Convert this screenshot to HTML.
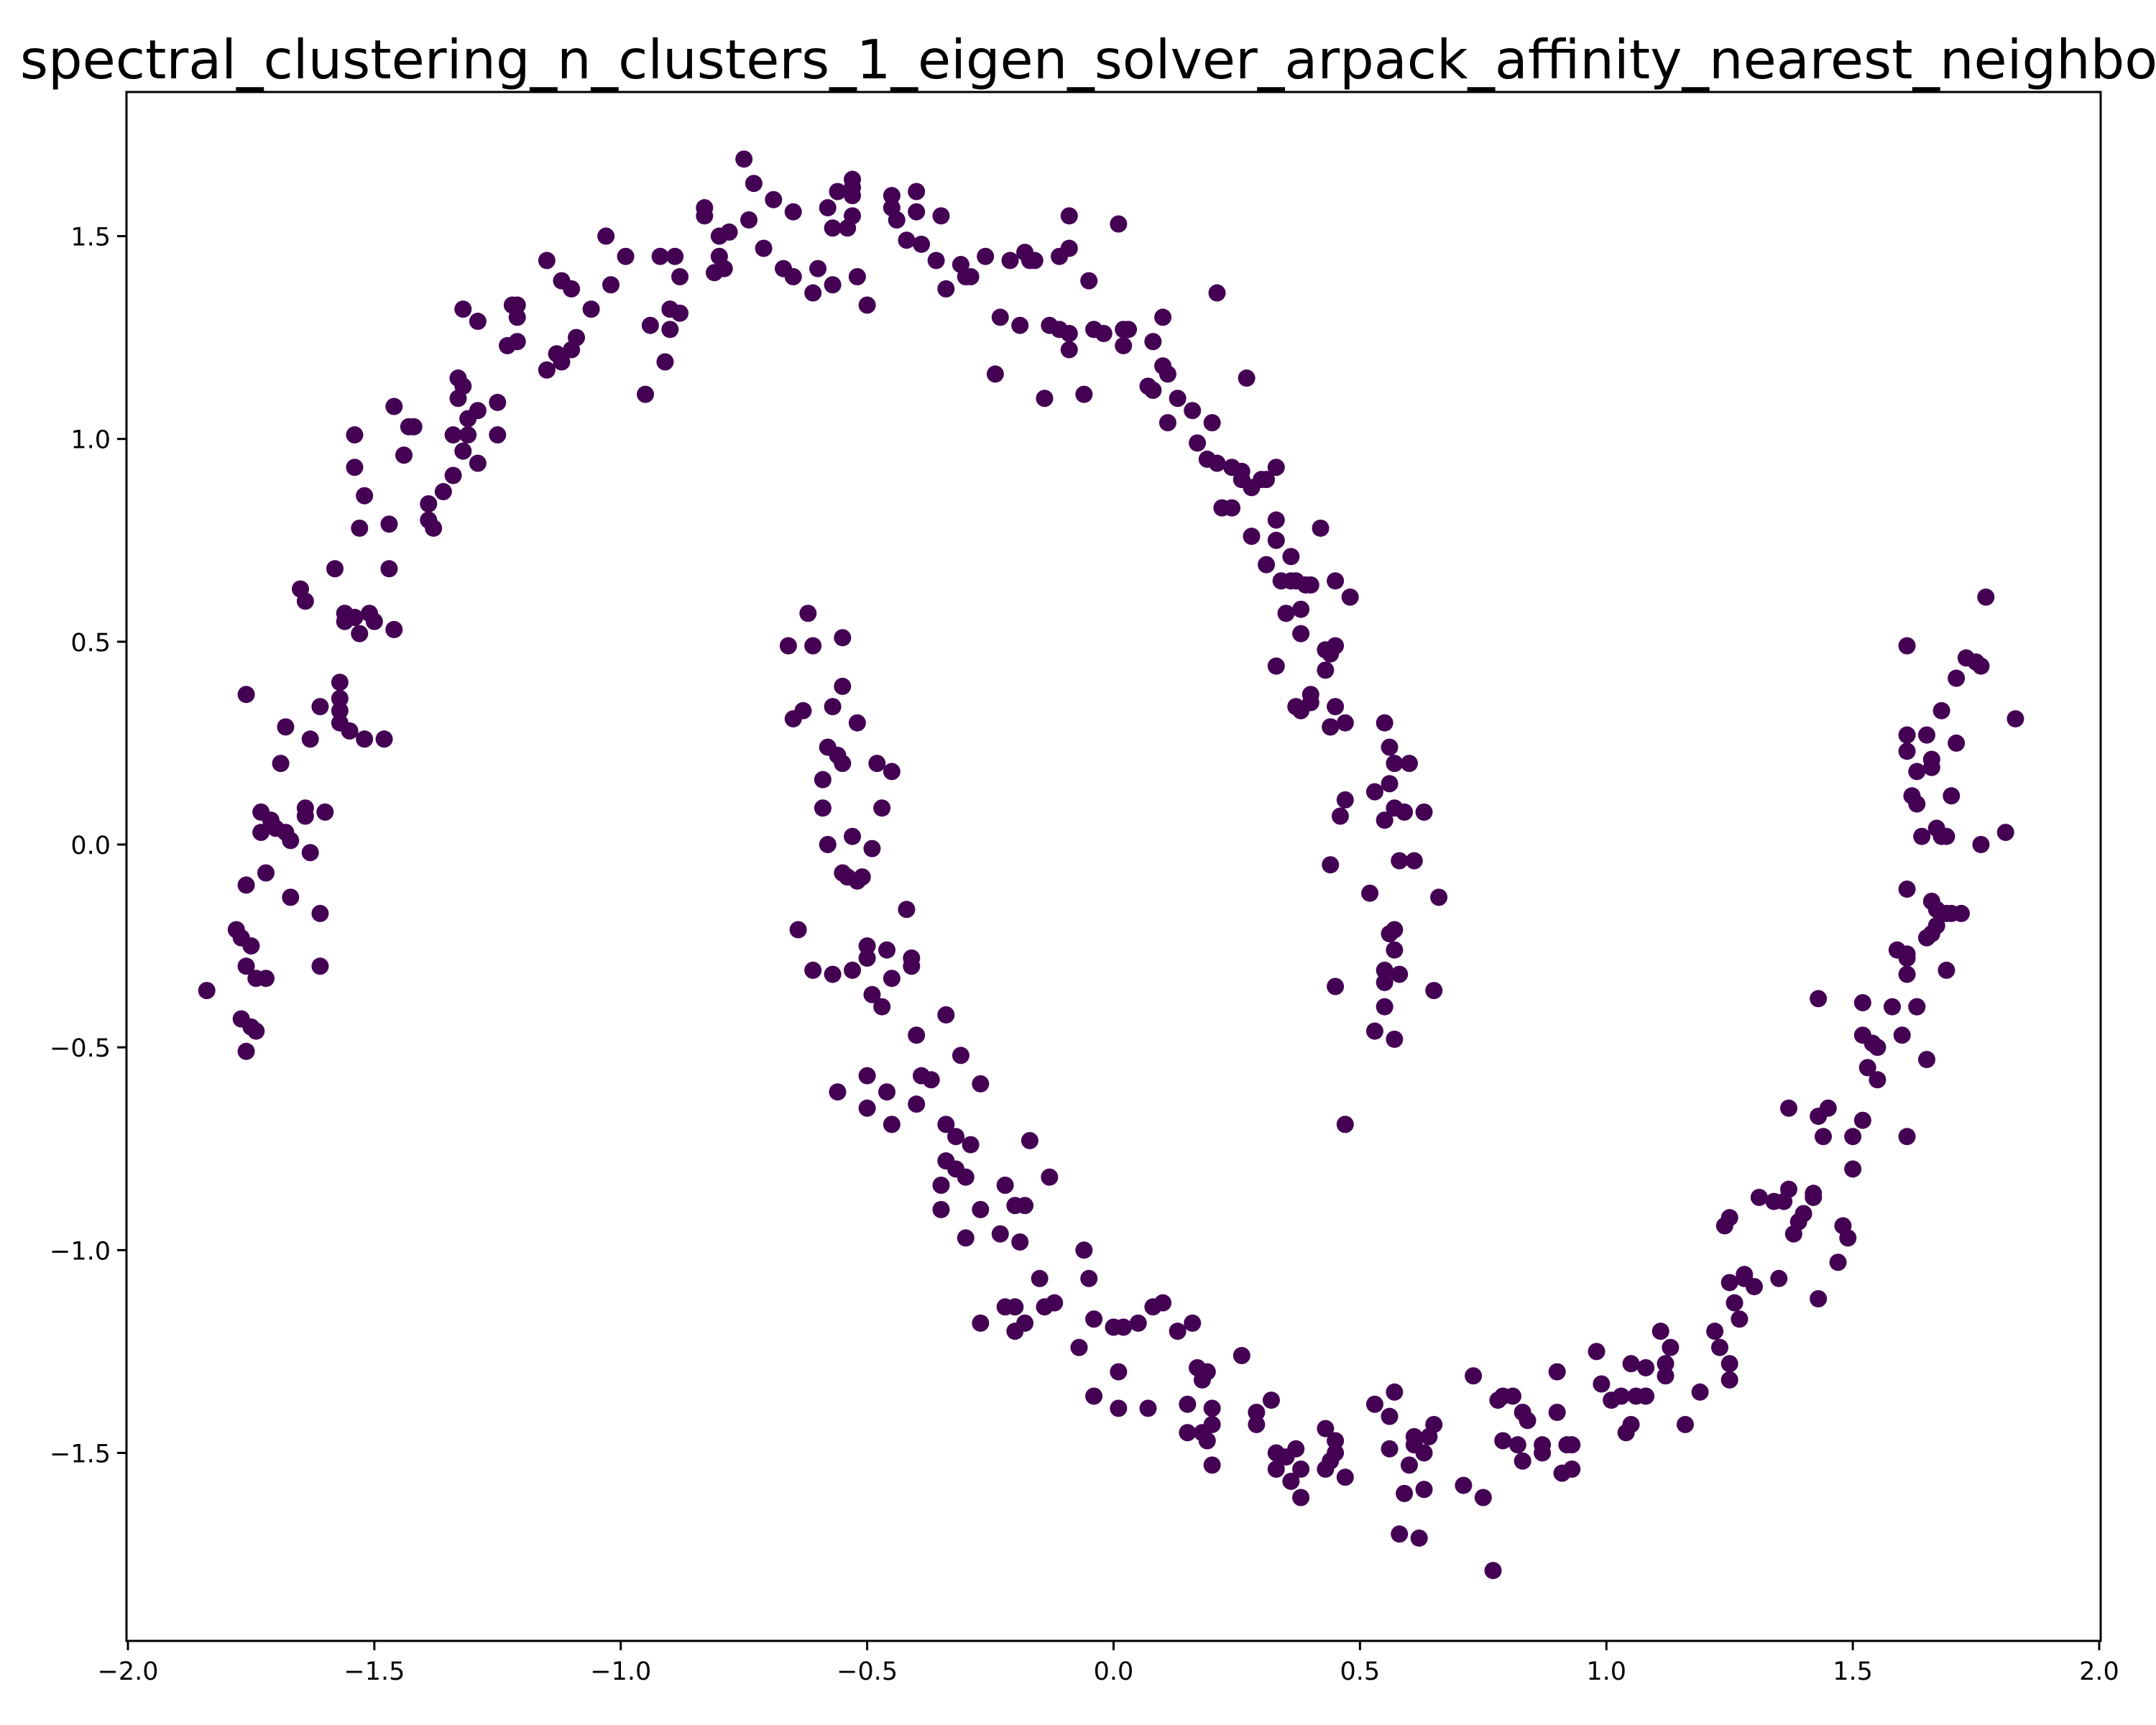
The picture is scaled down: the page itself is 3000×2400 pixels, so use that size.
<!DOCTYPE html>
<html><head><meta charset="utf-8"><style>html,body{margin:0;padding:0;background:#fff}svg{display:block}</style></head>
<body>
<svg id="chart" width="3000" height="2400" xmlns="http://www.w3.org/2000/svg" font-family="'DejaVu Sans','Liberation Sans',sans-serif">
<rect width="3000" height="2400" fill="#fff"/>
<text x="1550" y="109" font-size="75" text-anchor="middle">spectral_clustering_n_clusters_1_eigen_solver_arpack_affinity_nearest_neighbors</text>
<g id="marks"></g>
<g id="axes"></g>
</svg>
<script>
const xTicks = [-2.0,-1.5,-1.0,-0.5,0.0,0.5,1.0,1.5,2.0];
const xTickLabels = ["\u22122.0","\u22121.5","\u22121.0","\u22120.5","0.0","0.5","1.0","1.5","2.0"];
const yTicks = [-1.5,-1.0,-0.5,0.0,0.5,1.0,1.5];
const yTickLabels = ["\u22121.5","\u22121.0","\u22120.5","0.0","0.5","1.0","1.5"];
const xValues = [-1.84,-1.78,-1.77,-1.77,-1.76,-1.76,-1.76,-1.76,-1.75,-1.74,-1.75,-1.74,-1.73,-1.73,-1.72,-1.72,-1.71,-1.70,-1.69,-1.68,-1.68,-1.67,-1.67,-1.65,-1.64,-1.64,-1.64,-1.63,-1.63,-1.61,-1.61,-1.61,-1.60,-1.58,-1.57,-1.57,-1.57,-1.56,-1.57,-1.56,-1.55,-1.54,-1.54,-1.54,-1.53,-1.53,-1.52,-1.52,-1.51,-1.50,-1.48,-1.47,-1.47,-1.46,-1.46,-1.44,-1.43,-1.42,-1.39,-1.39,-1.38,-1.36,-1.34,-1.34,-1.33,-1.33,-1.32,-1.32,-1.32,-1.31,-1.31,-1.29,-1.29,-1.29,-1.25,-1.25,-1.23,-1.22,-1.21,-1.21,-1.21,-1.15,-1.15,-1.13,-1.12,-1.12,-1.10,-1.10,-1.09,-1.06,-1.03,-1.02,-0.99,-0.95,-0.94,-0.92,-0.91,-0.90,-0.90,-0.89,-0.88,-0.88,-0.83,-0.83,-0.81,-0.80,-0.80,-0.79,-0.78,-0.75,-0.74,-0.73,-0.71,-0.69,-0.67,-0.65,-0.65,-0.61,-0.60,-0.58,-0.57,-0.57,-0.56,-0.54,-0.53,-0.53,-0.53,-0.53,-0.52,-0.50,-0.45,-0.45,-0.44,-0.42,-0.40,-0.40,-0.39,-0.36,-0.35,-0.34,-0.31,-0.30,-0.29,-0.26,-0.24,-0.23,-0.21,-0.19,-0.18,-0.17,-0.16,-0.14,-0.13,-0.11,-0.11,-0.09,-0.09,-0.09,-0.09,-0.06,-0.05,-0.04,-0.02,0.01,0.02,0.02,0.03,0.07,0.08,0.08,0.10,0.10,0.11,0.11,0.13,0.16,0.17,0.19,0.20,0.21,0.21,0.22,0.24,0.24,0.26,0.26,0.27,0.28,0.28,0.30,0.31,0.31,0.33,0.33,0.33,0.33,0.34,0.35,0.36,0.36,0.37,0.37,0.38,0.38,0.38,0.39,0.40,0.40,0.40,0.42,0.43,0.43,0.44,0.44,0.44,0.44,0.45,0.45,0.45,0.45,0.46,0.47,0.47,0.47,0.48,0.52,0.53,0.53,0.55,0.55,0.55,0.55,0.55,0.56,0.56,0.56,0.57,0.57,0.57,0.57,0.57,0.58,0.58,0.59,0.60,0.61,0.63,0.65,0.66,
-0.66,-0.65,-0.64,-0.63,-0.62,-0.61,-0.61,-0.59,-0.59,-0.58,-0.58,-0.57,-0.57,-0.56,-0.56,-0.55,-0.55,-0.55,-0.55,-0.54,-0.53,-0.53,-0.52,-0.52,-0.51,-0.50,-0.50,-0.50,-0.50,-0.49,-0.49,-0.48,-0.47,-0.47,-0.46,-0.46,-0.45,-0.45,-0.45,-0.42,-0.41,-0.41,-0.40,-0.40,-0.39,-0.37,-0.35,-0.35,-0.34,-0.34,-0.34,-0.32,-0.32,-0.31,-0.30,-0.30,-0.29,-0.27,-0.27,-0.27,-0.23,-0.22,-0.22,-0.20,-0.20,-0.20,-0.19,-0.18,-0.18,-0.17,-0.15,-0.14,-0.13,-0.12,-0.07,-0.06,-0.05,-0.04,-0.04,0.00,0.01,0.01,0.02,0.05,0.07,0.08,0.10,0.13,0.15,0.15,0.16,0.17,0.18,0.18,0.19,0.19,0.20,0.20,0.20,0.26,0.29,0.29,0.32,0.33,0.33,0.35,0.36,0.37,0.38,0.38,0.43,0.43,0.44,0.45,0.45,0.47,0.53,0.56,0.56,0.57,0.58,0.59,0.60,0.61,0.61,0.62,0.63,0.63,0.64,0.65,0.71,0.73,0.75,0.77,0.78,0.79,0.79,0.81,0.82,0.83,0.83,0.84,0.87,0.87,0.90,0.90,0.91,0.92,0.93,0.93,0.98,0.99,1.01,1.03,1.04,1.05,1.05,1.06,1.08,1.08,1.11,1.12,1.12,1.13,1.16,1.19,1.22,1.23,1.24,1.25,1.25,1.25,1.25,1.26,1.27,1.28,1.28,1.30,1.31,1.34,1.35,1.36,1.37,1.37,1.38,1.39,1.40,1.42,1.42,1.43,1.43,1.43,1.44,1.45,1.47,1.48,1.49,1.50,1.50,1.52,1.52,1.52,1.53,1.54,1.55,1.55,1.58,1.59,1.60,1.61,1.61,1.61,1.61,1.61,1.61,1.61,1.61,1.62,1.63,1.63,1.63,1.63,1.64,1.65,1.65,1.65,1.66,1.66,1.66,1.66,1.67,1.67,1.67,1.68,1.68,1.68,1.69,1.69,1.69,1.70,1.70,1.71,1.71,1.72,1.73,1.75,1.76,1.76,1.77,1.81,1.83];
const yValues = [-0.36,-0.21,-0.23,-0.43,-0.51,-0.10,0.37,-0.30,-0.25,-0.33,-0.45,-0.46,0.03,0.08,-0.07,-0.33,0.06,0.04,0.20,0.29,0.03,0.01,-0.13,0.63,0.60,0.09,0.07,0.26,-0.02,0.34,-0.17,-0.30,0.08,0.68,0.40,0.36,0.33,0.55,0.30,0.57,0.28,1.01,0.93,0.56,0.52,0.78,0.86,0.26,0.57,0.55,0.26,0.79,0.68,1.08,0.53,0.96,1.03,1.03,0.84,0.80,0.78,0.87,0.91,1.01,1.10,1.15,1.32,1.13,0.97,1.01,1.05,0.94,1.29,1.07,1.09,1.01,1.23,1.33,1.30,1.24,1.33,1.17,1.44,1.21,1.19,1.39,1.22,1.37,1.25,1.32,1.50,1.38,1.45,1.11,1.28,1.45,1.19,1.32,1.27,1.45,1.40,1.31,1.55,1.57,1.41,1.50,1.45,1.42,1.51,1.69,1.54,1.63,1.47,1.59,1.42,1.56,1.40,1.36,1.42,1.57,1.38,1.52,1.61,1.52,1.62,1.60,1.55,1.64,1.40,1.33,1.57,1.60,1.54,1.49,1.56,1.61,1.48,1.44,1.55,1.37,1.43,1.40,1.40,1.45,1.16,1.30,1.44,1.28,1.46,1.44,1.44,1.10,1.28,1.27,1.45,1.47,1.55,1.22,1.26,1.11,1.39,1.27,1.26,1.53,1.27,1.23,1.27,1.13,1.12,1.24,1.30,1.18,1.16,1.04,1.10,1.07,0.99,0.95,1.04,1.36,0.94,0.83,0.93,0.83,0.92,0.90,1.15,0.88,0.76,0.90,0.90,0.69,0.44,0.93,0.75,0.80,0.65,0.57,0.71,0.65,0.34,0.65,0.58,0.52,0.33,0.64,0.37,0.64,0.35,0.78,0.48,0.43,0.29,0.47,-0.05,0.29,0.49,0.65,0.34,-0.35,0.07,-0.69,0.11,0.30,0.61,-0.12,0.13,-0.46,-0.31,0.30,-0.34,-0.40,0.06,0.15,0.24,-0.22,0.09,0.20,-0.48,-0.21,-0.26,-0.04,-0.32,0.08,0.20,-0.04,0.08,-0.36,-0.13,
0.49,0.31,-0.21,0.33,0.57,-0.31,0.49,0.16,0.09,0.24,0.00,0.34,-0.32,-0.61,0.22,0.20,-0.07,0.51,0.39,-0.08,0.02,-0.31,0.30,-0.09,-0.08,-0.28,-0.65,-0.25,-0.57,-0.37,-0.01,0.20,0.09,-0.40,-0.26,-0.61,0.18,-0.33,-0.69,-0.16,-0.28,-0.30,-0.47,-0.64,-0.57,-0.58,-0.90,-0.84,-0.69,-0.78,-0.42,-0.80,-0.72,-0.52,-0.97,-0.82,-0.74,-0.90,-1.18,-0.59,-0.96,-0.84,-1.14,-1.14,-0.89,-1.20,-0.98,-1.18,-0.89,-0.73,-1.07,-1.14,-0.82,-1.13,-1.24,-1.00,-1.07,-1.17,-1.36,-1.19,-1.30,-1.39,-1.19,-1.18,-1.39,-1.14,-1.13,-1.20,-1.38,-1.45,-1.18,-1.29,-1.45,-1.32,-1.47,-1.30,-1.39,-1.43,-1.53,-1.26,-1.40,-1.43,-1.37,-1.50,-1.54,-1.51,-1.57,-1.49,-1.54,-1.61,-1.54,-1.44,-1.52,-1.47,-1.50,-1.56,-1.38,-1.41,-1.49,-1.35,-1.70,-1.60,-1.53,-1.46,-1.48,-1.71,-1.59,-1.50,-1.46,-1.43,-1.58,-1.31,-1.61,-1.79,-1.37,-1.47,-1.36,-1.36,-1.48,-1.52,-1.40,-1.42,-1.50,-1.48,-1.30,-1.40,-1.55,-1.48,-1.54,-1.48,-1.25,-1.33,-1.37,-1.36,-1.45,-1.43,-1.28,-1.36,-1.29,-1.36,-1.20,-1.31,-1.28,-1.24,-1.43,-1.35,-1.20,-1.24,-0.94,-0.92,-1.32,-1.28,-1.08,-1.13,-1.17,-1.06,-1.07,-1.09,-0.87,-0.88,-1.07,-0.88,-0.85,-0.65,-0.96,-0.93,-0.91,-0.87,-0.86,-0.67,-1.12,-0.38,-0.72,-0.65,-1.03,-0.94,-0.97,-0.72,-0.80,-0.39,-0.47,-0.68,-0.55,-0.49,-0.50,-0.58,-0.40,-0.26,-0.47,-0.72,-0.27,0.49,0.27,-0.11,-0.32,-0.28,0.23,0.12,0.10,-0.40,-0.40,0.18,0.02,-0.23,-0.53,0.27,0.19,-0.14,-0.22,0.21,-0.20,0.04,-0.16,0.33,0.02,-0.17,-0.17,-0.31,0.02,-0.17,0.12,0.25,0.41,-0.17,0.46,0.45,0.00,0.44,0.61,0.03,0.31];

const L=176,R=2923,T=128,B=2283;
const xs = v => 178 + (v + 2) * (2921 - 178) / 4;
const ys = v => 1175 - v * 564.3;
const NS='http://www.w3.org/2000/svg';
const marks=document.getElementById('marks');
const n=Math.min(xValues.length,yValues.length);
for(let i=0;i<n;i++){
  const c=document.createElementNS(NS,'circle');
  c.setAttribute('cx',xs(xValues[i]));
  c.setAttribute('cy',ys(yValues[i]));
  c.setAttribute('r',12);
  c.setAttribute('fill','#440154');
  
  
  marks.appendChild(c);
}
const axes=document.getElementById('axes');
const frame=document.createElementNS(NS,'rect');
frame.setAttribute('x',L);frame.setAttribute('y',T);frame.setAttribute('width',R-L);frame.setAttribute('height',B-T);
frame.setAttribute('fill','none');frame.setAttribute('stroke','#000');frame.setAttribute('stroke-width',3);


axes.appendChild(frame);
xTicks.forEach((t,i)=>{
  const x=xs(t);
  const l=document.createElementNS(NS,'line');
  l.setAttribute('x1',x);l.setAttribute('x2',x);l.setAttribute('y1',B);l.setAttribute('y2',B+13);
  l.setAttribute('stroke','#000');l.setAttribute('stroke-width',3);
  
  
  axes.appendChild(l);
  const tx=document.createElementNS(NS,'text');
  tx.setAttribute('x',x);tx.setAttribute('y',B+54);tx.setAttribute('font-size',35);tx.setAttribute('text-anchor','middle');
  tx.textContent=xTickLabels[i];
  
  
  axes.appendChild(tx);
});
yTicks.forEach((t,i)=>{
  const y=ys(t);
  const l=document.createElementNS(NS,'line');
  l.setAttribute('x1',L-13);l.setAttribute('x2',L);l.setAttribute('y1',y);l.setAttribute('y2',y);
  l.setAttribute('stroke','#000');l.setAttribute('stroke-width',3);
  
  
  axes.appendChild(l);
  const tx=document.createElementNS(NS,'text');
  tx.setAttribute('x',L-22);tx.setAttribute('y',y+13);tx.setAttribute('font-size',35);tx.setAttribute('text-anchor','end');
  tx.textContent=yTickLabels[i];
  
  
  axes.appendChild(tx);
});
</script>
</body></html>
